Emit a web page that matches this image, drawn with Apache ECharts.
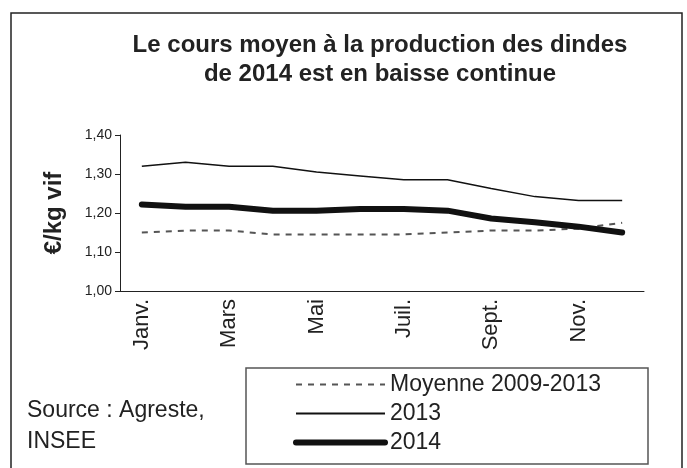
<!DOCTYPE html>
<html>
<head>
<meta charset="utf-8">
<script src="https://cdn.jsdelivr.net/npm/echarts@6/dist/echarts.min.js"></script>
<style>
    html, body { margin: 0; padding: 0; background: #fff; }
    #main { width: 687px; height: 468px; }
</style>
</head>
<body>
<div id="main"></div>
<script>
    // mois
    var months = ['Janv.', 'Févr.', 'Mars', 'Avr.', 'Mai', 'Juin', 'Juil.', 'Août', 'Sept.', 'Oct.', 'Nov.', 'Déc.'];
    var moyenne = [1.15, 1.155, 1.155, 1.145, 1.145, 1.145, 1.145, 1.15, 1.155, 1.155, 1.16, 1.175];
    var cours2013 = [1.32, 1.33, 1.32, 1.32, 1.305, 1.295, 1.285, 1.285, 1.263, 1.242, 1.232, 1.232];
    var cours2014 = [1.222, 1.216, 1.216, 1.206, 1.206, 1.21, 1.21, 1.206, 1.186, 1.176, 1.165, 1.15];

    var fontFam = '"Liberation Sans", Arial, sans-serif';

    function fmt(v) {
        return v.toFixed(2).replace('.', ',');
    }

    var myChart = echarts.init(document.getElementById('main'));
    var option = {
        animation: false,
        backgroundColor: '#fff',
        title: {
            text: 'Le cours moyen à la production des dindes\nde 2014 est en baisse continue',
            left: 375,
            top: 26,
            textAlign: 'center',
            textStyle: {
                fontFamily: fontFam,
                fontSize: 24,
                fontWeight: 'bold',
                color: '#222',
                lineHeight: 29
            }
        },
        legend: {
            orient: 'vertical',
            left: 293,
            top: 373,
            padding: 0,
            itemWidth: 89,
            itemHeight: 18,
            itemGap: 6,
            itemStyle: { opacity: 0 },
            data: [
                { name: 'Moyenne 2009-2013' },
                { name: '2013' },
                { name: '2014', lineStyle: { width: 6 } }
            ],
            textStyle: {
                fontFamily: fontFam,
                fontSize: 23,
                color: '#222'
            }
        },
        grid: {
            left: 120,
            right: 43,
            top: 135,
            bottom: 177
        },
        xAxis: {
            type: 'category',
            data: months,
            boundaryGap: true,
            axisLine: { lineStyle: { color: '#222', width: 1 } },
            axisTick: { interval: 0, length: 5, lineStyle: { color: '#222' } },
            axisLabel: {
                interval: 1,
                rotate: 90,
                margin: 8,
                fontFamily: fontFam,
                fontSize: 22,
                color: '#222'
            }
        },
        yAxis: {
            type: 'value',
            min: 1.0,
            max: 1.4,
            interval: 0.1,
            name: '€/kg vif',
            nameLocation: 'middle',
            nameGap: 54,
            nameTextStyle: {
                fontFamily: fontFam,
                fontSize: 24,
                fontWeight: 'bold',
                color: '#222'
            },
            splitLine: { show: false },
            axisLine: { show: true, lineStyle: { color: '#222', width: 1 } },
            axisTick: { show: true, length: 5, lineStyle: { color: '#222' } },
            axisLabel: {
                formatter: fmt,
                margin: 8,
                fontFamily: fontFam,
                fontSize: 14,
                color: '#222'
            }
        },
        series: [
            {
                name: 'Moyenne 2009-2013',
                type: 'line',
                data: moyenne,
                symbol: 'none',
                lineStyle: { color: '#555', width: 2, type: [6, 6] },
                itemStyle: { color: '#555' }
            },
            {
                name: '2013',
                type: 'line',
                data: cours2013,
                symbol: 'none',
                lineStyle: { color: '#111', width: 1.5 },
                itemStyle: { color: '#111' }
            },
            {
                name: '2014',
                type: 'line',
                data: cours2014,
                symbol: 'none',
                lineStyle: { color: '#111', width: 6, cap: 'round' },
                itemStyle: { color: '#111' }
            }
        ],
        graphic: [
            {
                type: 'rect',
                shape: { x: 11, y: 13, width: 671, height: 470 },
                style: { fill: null, stroke: '#222', lineWidth: 1.5 },
                silent: true
            },
            {
                type: 'rect',
                shape: { x: 246, y: 368, width: 402, height: 96 },
                style: { fill: null, stroke: '#555', lineWidth: 1.5 },
                silent: true
            },
            {
                type: 'text',
                left: 27,
                top: 395,
                style: {
                    text: 'Source : Agreste,\nINSEE',
                    font: '23px ' + fontFam,
                    lineHeight: 31,
                    fill: '#222'
                }
            }
        ]
    };
    myChart.setOption(option);
</script>
</body>
</html>
